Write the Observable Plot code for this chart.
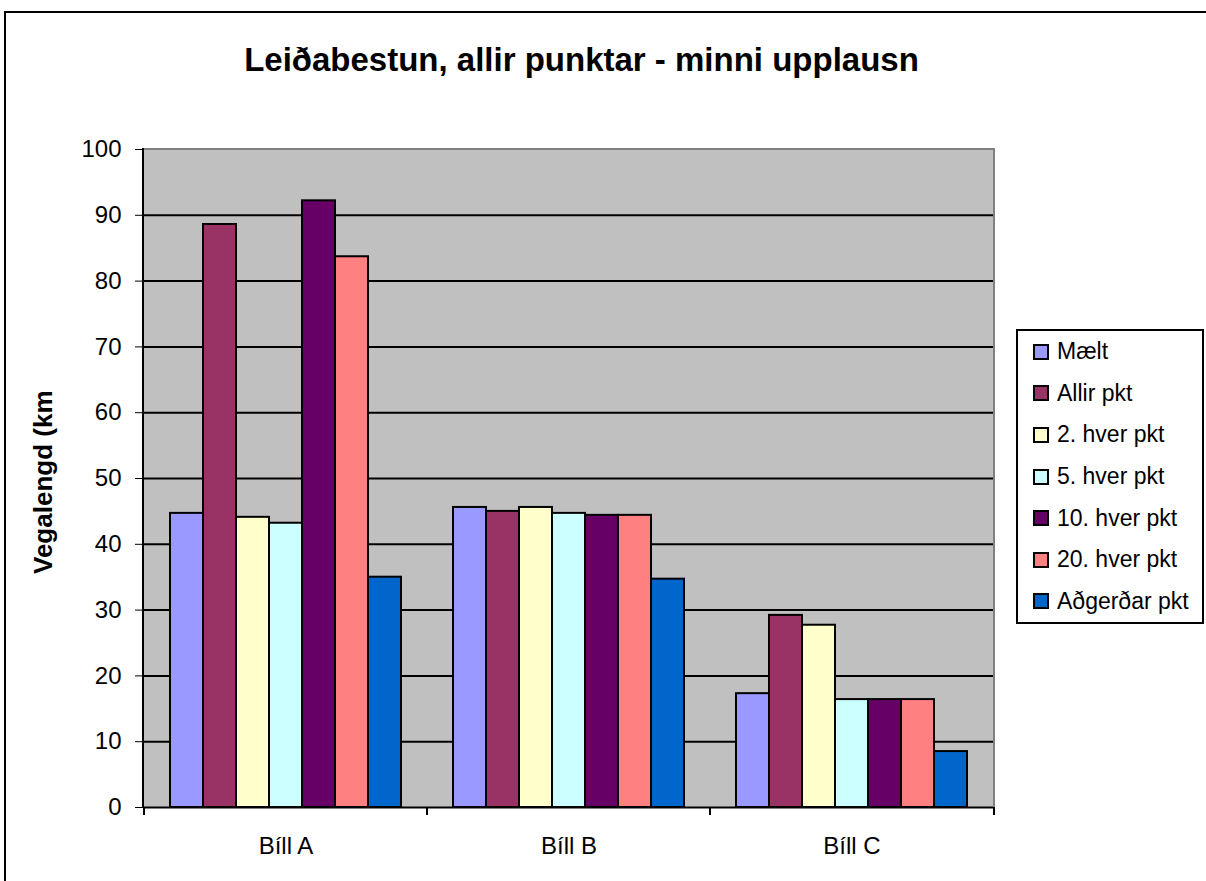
<!DOCTYPE html>
<html>
<head>
<meta charset="utf-8">
<script src="https://cdn.jsdelivr.net/npm/d3@7"></script>
<script src="https://cdn.jsdelivr.net/npm/@observablehq/plot@0.6"></script>
<style>
  html, body { margin: 0; padding: 0; background: #fff; }
  body { width: 1206px; height: 881px; overflow: hidden; position: relative; font-family: "Liberation Sans", Arial, sans-serif; }
  #frame { position: absolute; left: 4px; top: 11px; width: 1220px; height: 900px; border: 2px solid #000; pointer-events: none; }
  #title { position: absolute; left: 0; top: 42px; width: 1163px; text-align: center; font-weight: bold; font-size: 33px; line-height: 36px; }
  #chart { position: absolute; left: 0; top: 0; }
  #ylab { position: absolute; left: 28px; top: 392px; width: 32px; height: 182px; overflow: hidden; }
  #ylab span { position: absolute; left: 1px; top: 182px; transform: rotate(-90deg); transform-origin: 0 0; white-space: nowrap; font-weight: bold; font-size: 26px; line-height: 28px; }
  #legend { position: absolute; left: 1016px; top: 329px; width: 184px; border: 2px solid #000; background: #fff; padding: 0; }
  .item { height: 41.6px; display: flex; align-items: center; font-size: 23px; }
  .sw { width: 12px; height: 12px; border: 2px solid #000; margin-left: 15px; margin-right: 8px; flex: none; }
</style>
</head>
<body>
<div id="chart"></div>
<div id="title">Leiðabestun, allir punktar - minni upplausn</div>
<div id="ylab"><span>Vegalengd (km)</span></div>
<div id="legend"></div>
<div id="frame"></div>
<script>
const categories = ["Bíll A", "Bíll B", "Bíll C"];
const seriesNames = ["Mælt", "Allir pkt", "2. hver pkt", "5. hver pkt", "10. hver pkt", "20. hver pkt", "Aðgerðar pkt"];
const seriesColors = ["#9999FF", "#993366", "#FFFFCC", "#CCFFFF", "#660066", "#FF8080", "#0066CC"];

const maelt      = [44.7, 45.6, 17.3];
const allirPkt   = [88.6, 45.0, 29.2];
const hver2      = [44.1, 45.6, 27.7];
const hver5      = [43.2, 44.7, 16.4];
const hver10     = [92.2, 44.4, 16.4];
const hver20     = [83.7, 44.4, 16.4];
const adgerdar   = [35.0, 34.7, 8.5];

const yTicks = [0, 10, 20, 30, 40, 50, 60, 70, 80, 90, 100];

const seriesValues = [maelt, allirPkt, hver2, hver5, hver10, hver20, adgerdar];
const rows = [];
seriesNames.forEach((s, i) => categories.forEach((c, j) => rows.push({cat: c, series: s, value: seriesValues[i][j]})));

const chart = Plot.plot({
  width: 1010,
  height: 881,
  marginLeft: 143,
  marginRight: 16,
  marginTop: 149,
  marginBottom: 74,
  style: {fontFamily: "'Liberation Sans', Arial, sans-serif", fontSize: "24px", color: "#000", background: "transparent", overflow: "visible"},
  fx: {domain: categories, paddingInner: 0, paddingOuter: 0, axis: "bottom", tickSize: 0, tickPadding: 29, label: null},
  x: {domain: seriesNames, paddingInner: 0, paddingOuter: 0.73, axis: null},
  y: {domain: [0, 100], ticks: yTicks, tickSize: 9, tickPadding: 14, label: null},
  color: {domain: seriesNames, range: seriesColors},
  marks: [
    Plot.gridY(yTicks.filter(v => v > 0 && v < 100), {stroke: "#000", strokeOpacity: 1, strokeWidth: 2}),
    Plot.barY(rows, {fx: "cat", x: "series", y: "value", fill: "series", stroke: "#000", strokeWidth: 2}),
    Plot.ruleY([0], {stroke: "#000", strokeWidth: 2})
  ]
});
document.getElementById("chart").appendChild(chart);

// plot-area background, border, axis line and category boundary ticks from the scales
const svg = d3.select(chart);
const fxS = chart.scale("fx"), yS = chart.scale("y");
const x0 = fxS.range[0], x1 = fxS.range[1];
const yb = yS.range[0], yt = yS.range[1];
svg.insert("rect", ":first-child")
  .attr("x", x0).attr("y", yt).attr("width", x1 - x0).attr("height", yb - yt)
  .attr("fill", "#C0C0C0");
svg.append("path")
  .attr("d", `M${x0},${yt}H${x1}V${yb}`)
  .attr("fill", "none").attr("stroke", "#808080").attr("stroke-width", 2);
svg.append("line")
  .attr("x1", x0).attr("x2", x0).attr("y1", yt - 1).attr("y2", yb + 1)
  .attr("stroke", "#000").attr("stroke-width", 2);
const bounds = categories.map(c => fxS.apply(c)).concat([x1]);
svg.append("g").selectAll("line").data(bounds).join("line")
  .attr("x1", d => d).attr("x2", d => d).attr("y1", yb).attr("y2", yb + 8)
  .attr("stroke", "#000").attr("stroke-width", 2);

// legend
const legend = d3.select("#legend");
seriesNames.forEach((s, i) => {
  const it = legend.append("div").attr("class", "item");
  it.append("div").attr("class", "sw").style("background", seriesColors[i]);
  it.append("span").text(s);
});
</script>
</body>
</html>
